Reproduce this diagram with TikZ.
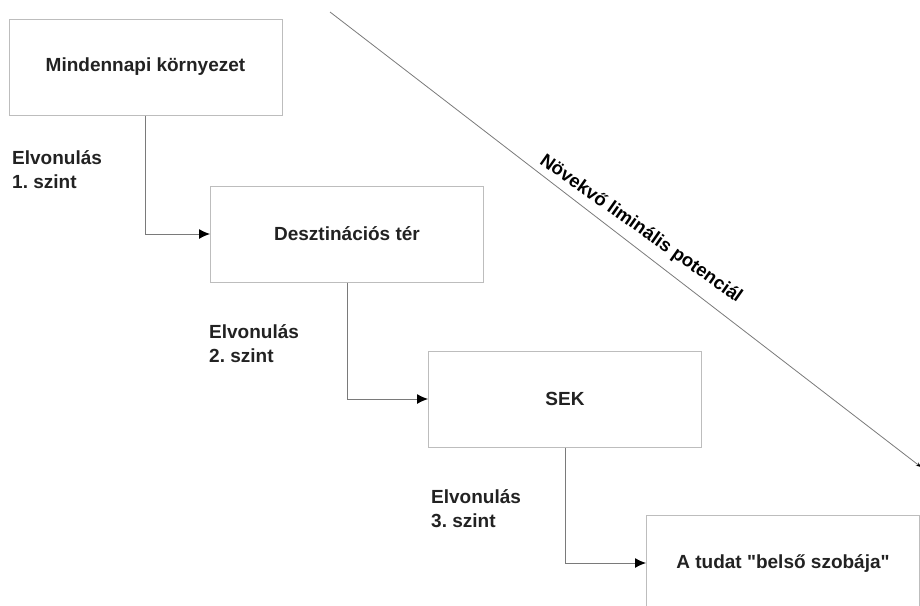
\documentclass[tikz,border=0pt]{standalone}
\usepackage{fontspec}
\setmainfont{Liberation Sans}[Ligatures=TeXOff]
\usetikzlibrary{arrows.meta}
\definecolor{boxline}{HTML}{BDBDBD}
\definecolor{conn}{HTML}{7A7A7A}
\definecolor{txt}{HTML}{222222}
\begin{document}
\begin{tikzpicture}[x=1pt,y=-1pt,
  stepbox/.style={draw=boxline, line width=1pt, minimum width=273pt, minimum height=96pt, inner sep=0pt, font=\fontsize{19}{22}\selectfont\bfseries, text=txt},
  lvl/.style={align=left, anchor=north west, inner sep=0pt, font=\fontsize{19}{24}\selectfont\bfseries, text=txt},
  link/.style={draw=conn, line width=1pt, -{Latex[length=11pt,width=10pt,color=black]}}]
\useasboundingbox (0,0) rectangle (920,605);
\clip (0,0) rectangle (920,605);
\node[stepbox] (b1) at (145.5,67) {Mindennapi környezet};
\node[stepbox] (b2) at (347,234) {Desztinációs tér};
\node[stepbox] (b3) at (565,399) {SEK};
\node[stepbox] (b4) at (783,563) {A tudat "belső szobája"};
\draw[link] (b1.south) |- (b2.west);
\draw[link] (b2.south) |- (b3.west);
\draw[link] (b3.south) |- (b4.west);
\node[lvl] (l1) at (12,150) {Elvonulás\\1.\ szint};
\node[lvl] (l2) at (209,324) {Elvonulás\\2.\ szint};
\node[lvl] (l3) at (431,489) {Elvonulás\\3.\ szint};
\coordinate (d1) at (330,12);
\coordinate (d2) at (921,467);
\draw[draw=conn, line width=0.8pt, -{Stealth[length=5pt,width=4pt,color=black]}] (d1) -- (d2);
\node[rotate=-35.2, anchor=base, inner sep=0pt, font=\fontsize{18.5}{22}\selectfont\bfseries, text=black] (lab) at (638,233) {Növekvő liminális potenciál};
\end{tikzpicture}
\end{document}
